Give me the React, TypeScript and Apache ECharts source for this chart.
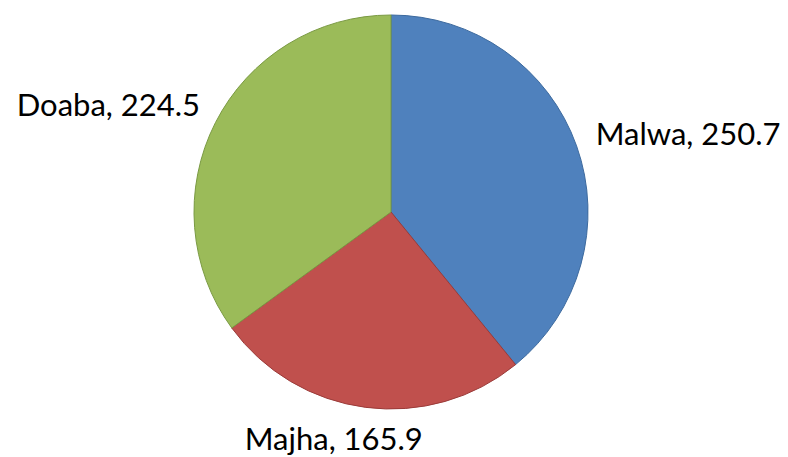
import React, { useEffect, useRef } from "react";
import * as echarts from "echarts";

const categories = ["Malwa", "Majha", "Doaba"];
const values = [250.7, 165.9, 224.5];
const fillColors = ["#4F81BD", "#C0504D", "#9BBB59"];
const borderColors = ["#3D6A9E", "#9B3B39", "#7A9A43"];
const labelShifts = [
  { dx: 0, dy: -8 },
  { dx: 64, dy: 16 },
  { dx: 3, dy: -12 },
];

export default function App() {
  const ref = useRef<HTMLDivElement>(null);
  useEffect(() => {
    document.body.style.margin = "0";
    const chart = echarts.init(ref.current!, null, { renderer: "svg" });
    chart.setOption({
      animation: false,
      backgroundColor: "#ffffff",
      series: [
        {
          type: "pie",
          center: [391, 212],
          radius: 197,
          startAngle: 90,
          clockwise: true,
          data: categories.map((name, i) => ({
            name,
            value: values[i],
            itemStyle: { color: fillColors[i], borderColor: borderColors[i], borderWidth: 1 },
          })),
          label: {
            show: true,
            position: "outside",
            formatter: (p: any) => `${p.name}, ${p.value}`,
            fontFamily: "Lato",
            fontSize: 31,
            color: "#000000",
            overflow: "none",
          },
          labelLine: { show: false, length: 15, length2: 0 },
          labelLayout: (p: any) => labelShifts[p.dataIndex],
        },
      ],
    });
    return () => chart.dispose();
  }, []);
  return <div ref={ref} style={{ width: 788, height: 457 }} />;
}
